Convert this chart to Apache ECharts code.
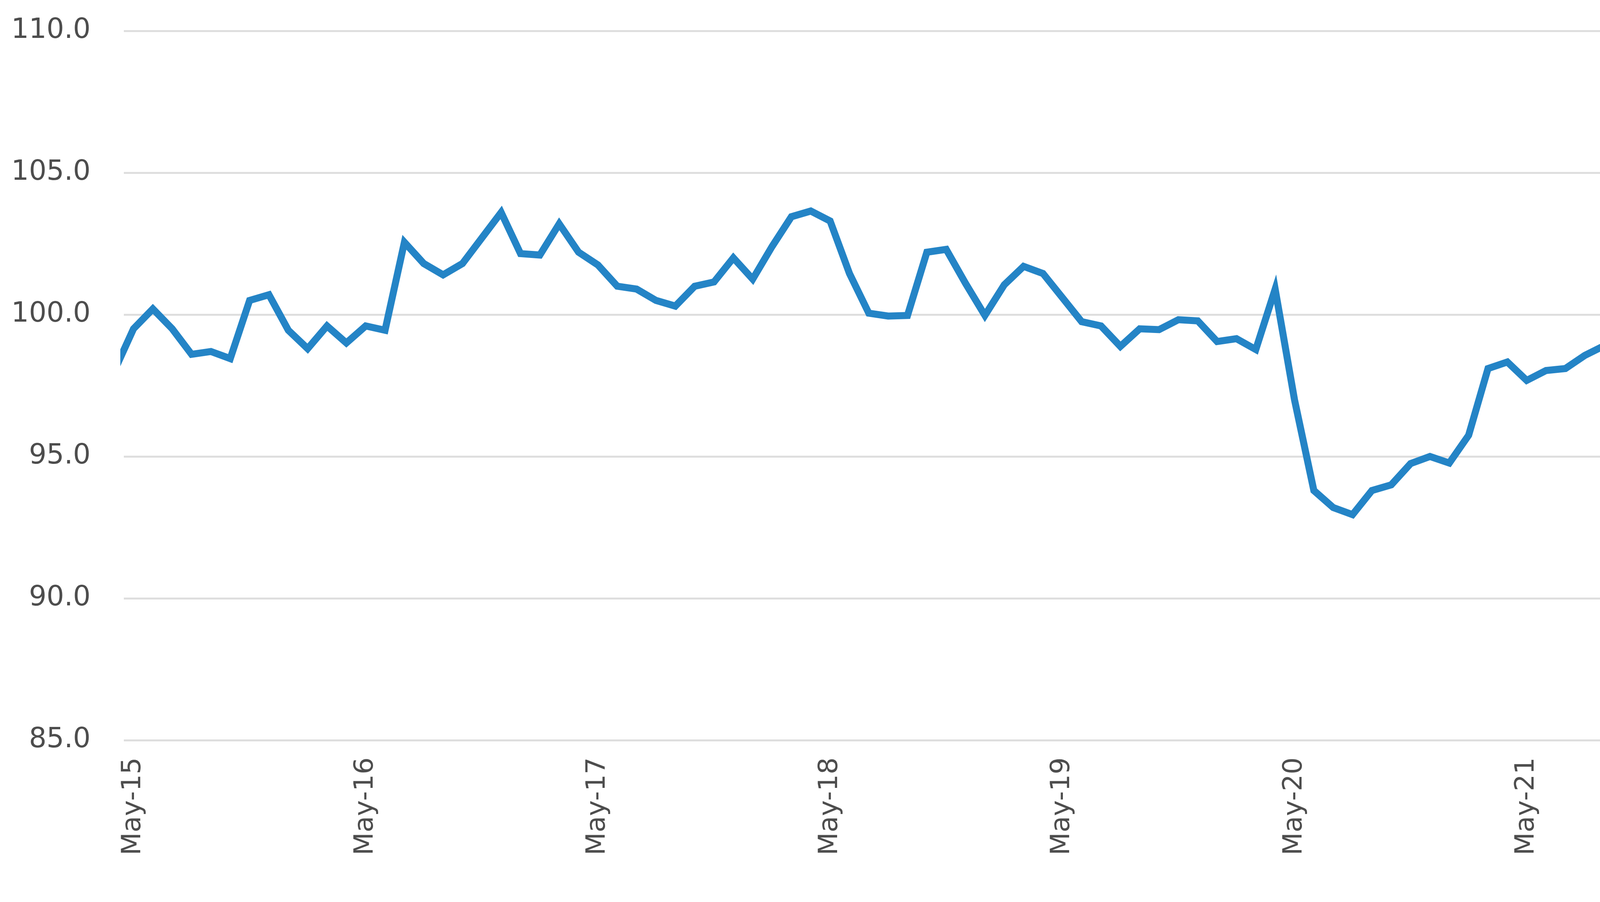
<!DOCTYPE html>
<html>
<head>
<meta charset="utf-8">
<script src="https://cdn.jsdelivr.net/npm/echarts@6/dist/echarts.min.js"></script>
<style>
  html, body { margin: 0; padding: 0; background: #fff; }
  #chart { width: 5401px; height: 2308px; }
</style>
</head>
<body>
<div id="chart"></div>
<script>
// monthly index, first value is Apr-15 (clipped at the left edge), last is May-23
var firstIndex = -1;
var indexValues = [
    98.0,
    99.5, 100.2, 99.5, 98.6, 98.7, 98.45, 100.5, 100.7, 99.45, 98.8, 99.6, 99.0,
    99.6, 99.45, 102.55, 101.8, 101.4, 101.8, 102.7, 103.6, 102.15, 102.1, 103.2, 102.2,
    101.75, 101.0, 100.9, 100.5, 100.3, 101.0, 101.15, 102.0, 101.25, 102.4, 103.45, 103.65,
    103.3, 101.45, 100.05, 99.95, 99.97, 102.2, 102.3, 101.1, 99.97, 101.05, 101.7, 101.45,
    100.6, 99.75, 99.6, 98.88, 99.5, 99.47, 99.82, 99.78, 99.05, 99.15, 98.77, 100.9,
    97.0, 93.8, 93.2, 92.95, 93.8, 94.0, 94.75, 95.0, 94.77, 95.75, 98.1, 98.33,
    97.68, 98.03, 98.1, 98.56, 98.9, 100.45, 101.38, 101.6, 101.5, 102.5, 103.95, 105.8,
    104.83, 104.67, 102.73, 101.96, 103.15, 103.33, 100.87, 98.55, 97.15, 98.1, 98.25, 96.75,
    96.4
];
var tickMonths = [0, 12, 24, 36, 48, 60, 72, 84, 96];
var tickLabels = ['May-15', 'May-16', 'May-17', 'May-18', 'May-19', 'May-20', 'May-21', 'May-22', 'May-23'];
var yTicks = [85, 90, 95, 100, 105, 110];

var myChart = echarts.init(document.getElementById('chart'));

var points = [];
indexValues.forEach(function(v, i) {
    points.push([firstIndex + i, v]);
});

var labelFont = 'DejaVu Sans';

var option = {
    backgroundColor: '#ffffff',
    animation: false,
    grid: {
        left: 317,
        right: 279,
        top: 79,
        bottom: 414
    },
    xAxis: {
        type: 'value',
        min: -0.5,
        max: 96.5,
        axisLine: { show: false },
        axisTick: { show: false },
        splitLine: { show: false },
        axisLabel: {
            customValues: tickMonths,
            rotate: 90,
            margin: 44,
            color: '#4d4d4d',
            fontFamily: labelFont,
            fontSize: 68,
            formatter: function(val) {
                var k = tickMonths.indexOf(Math.round(val));
                return k >= 0 ? tickLabels[k] : '';
            }
        }
    },
    yAxis: {
        type: 'value',
        min: yTicks[0],
        max: yTicks[yTicks.length - 1],
        interval: 5,
        axisLine: { show: false },
        axisTick: { show: false },
        splitLine: {
            lineStyle: { color: '#dedede', width: 5 }
        },
        axisLabel: {
            margin: 85,
            color: '#4d4d4d',
            fontFamily: labelFont,
            fontSize: 71,
            formatter: function(val) {
                return val.toFixed(1);
            }
        }
    },
    series: [{
        type: 'line',
        data: points,
        clip: true,
        showSymbol: false,
        symbol: 'none',
        lineStyle: {
            color: '#2484c6',
            width: 18,
            join: 'miter'
        },
        // last value written just below and right of the line end
        endLabel: {
            show: true,
            formatter: function(p) {
                return p.value[1].toFixed(1);
            },
            offset: [0, 50],
            color: '#404040',
            fontFamily: labelFont,
            fontSize: 82,
            fontStyle: 'italic',
            fontWeight: 'bold'
        }
    }]
};

myChart.setOption(option);
</script>
</body>
</html>
